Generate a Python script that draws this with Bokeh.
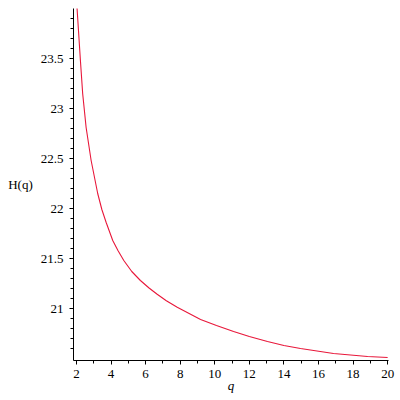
from bokeh.plotting import figure
from bokeh.models import Range1d, FixedTicker, CustomJSTickFormatter
from bokeh.embed import file_html
from bokeh.resources import INLINE

# values
q_vals = [2.0, 2.04, 2.23, 2.36, 2.56, 2.85, 3.23, 3.47, 3.72, 4.10, 4.40, 4.74,
          5.20, 5.70, 6.20, 6.67, 7.20, 7.83, 9.18, 10.10, 11.09, 12.00, 13.05,
          14.00, 14.96, 16.87, 18.84, 20.0]
h_vals = [24.10, 23.99, 23.48, 23.15, 22.81, 22.48, 22.15, 21.99, 21.86, 21.68, 21.58, 21.48,
          21.37, 21.28, 21.205, 21.142, 21.078, 21.012, 20.89, 20.83, 20.77, 20.72, 20.67,
          20.63, 20.60, 20.55, 20.52, 20.51]

x_ticks = [2, 4, 6, 8, 10, 12, 14, 16, 18, 20]
x_minor = [3, 5, 7, 9, 11, 13, 15, 17, 19]
y_ticks = [21, 21.5, 22, 22.5, 23, 23.5]
y_minor = [20.6, 20.7, 20.8, 20.9, 21.1, 21.2, 21.3, 21.4, 21.6, 21.7, 21.8, 21.9,
           22.1, 22.2, 22.3, 22.4, 22.6, 22.7, 22.8, 22.9, 23.1, 23.2, 23.3, 23.4,
           23.6, 23.7, 23.8, 23.9]

FONT = "Liberation Serif"

p = figure(frame_width=315, frame_height=352, output_backend="svg", toolbar_location=None,
           x_range=Range1d(1.83, 20.05), y_range=Range1d(20.48, 24.0),
           min_border_left=73, min_border_right=10, min_border_top=8, min_border_bottom=0)
p.outline_line_color = None
p.xgrid.visible = False
p.ygrid.visible = False
p.background_fill_color = "white"
p.border_fill_color = "white"

p.line(q_vals, h_vals, line_color="#e8173a", line_width=1.1)

fmt = CustomJSTickFormatter(code="return String(tick);")

for ax in (p.xaxis[0], p.yaxis[0]):
    ax.axis_line_color = "black"
    ax.major_tick_line_color = "black"
    ax.minor_tick_line_color = "black"
    ax.major_tick_in = 0
    ax.major_tick_out = 4
    ax.minor_tick_in = 0
    ax.minor_tick_out = 3
    ax.major_label_text_font = FONT
    ax.major_label_text_font_size = "13px"
    ax.major_label_text_color = "black"
    ax.axis_label_text_font = FONT
    ax.axis_label_text_font_size = "13px"
    ax.axis_label_text_color = "black"
    ax.formatter = fmt

p.xaxis[0].ticker = FixedTicker(ticks=x_ticks, minor_ticks=x_minor)
p.yaxis[0].ticker = FixedTicker(ticks=y_ticks, minor_ticks=y_minor)

p.xaxis[0].axis_label = "q"
p.xaxis[0].axis_label_text_font_style = "italic"
p.xaxis[0].major_label_standoff = 5
p.xaxis[0].axis_label_standoff = -3

p.yaxis[0].axis_label = "H(q)"
p.yaxis[0].axis_label_text_font_style = "normal"
p.yaxis[0].axis_label_orientation = "horizontal"
p.yaxis[0].major_label_standoff = 6
p.yaxis[0].axis_label_standoff = 5

open("out.html", "w").write(file_html(p, INLINE))
